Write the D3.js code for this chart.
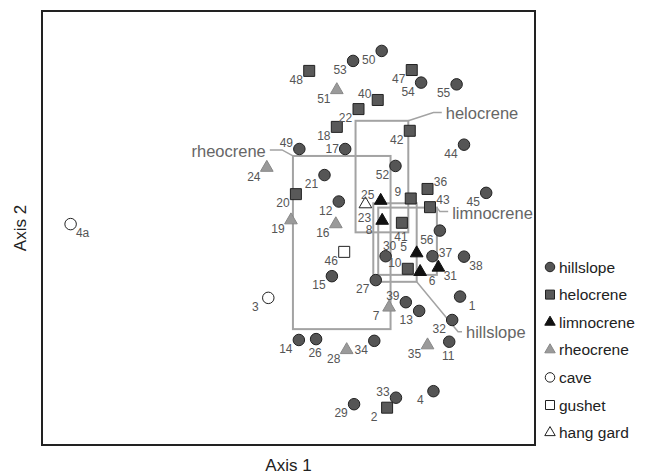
<!DOCTYPE html>
<html>
<head>
<meta charset="utf-8">
<script src="https://cdn.jsdelivr.net/npm/d3@7"></script>
<style>
  body { margin: 0; background: #fff; }
  text { font-family: "Liberation Sans", Arial, sans-serif; }
</style>
</head>
<body>
<div id="chart"></div>
<script>
// ordination scores (axis units, 0-100)
const siteIds = ["50","53","54","55","44","49","17","21","52","45","12","56","30","37","38","27","15","1","39","13","32","14","26","34","11","29","33","4",
  "48","47","40","22","18","42","36","20","9","43","41","10","2",
  "25","8","5","6","31",
  "51","24","19","16","7","28","35",
  "4a","3","46","23"];
const axis1 = [68.9,63.1,76.9,84.1,85.6,52.2,61.5,57.3,71.7,90.1,60.2,80.7,69.7,79.2,85.6,67.7,58.8,84.8,73.8,76.5,83.2,52.1,55.6,67.4,82.6,63.3,71.8,79.4,
  54.2,75.0,68.1,64.2,59.8,74.6,78.2,51.5,74.8,78.7,73.0,74.2,70.0,
  68.7,69.0,76.0,76.7,80.4,
  59.8,45.6,50.5,59.6,70.4,61.8,78.2,
  5.8,45.9,61.3,65.6];
const axis2 = [90.8,88.5,83.5,83.1,69.2,68.2,68.2,62.2,64.3,58.1,56.1,49.4,43.5,43.5,43.4,38.0,38.9,34.2,32.9,30.9,28.8,24.2,24.4,24.0,23.8,9.4,10.9,12.4,
  86.2,86.4,79.5,77.4,73.3,72.4,59.0,57.8,56.8,54.8,51.2,40.6,8.6,
  56.3,51.7,44.2,39.9,40.9,
  81.8,63.9,51.8,50.9,31.7,21.9,23.0,
  50.9,33.9,44.5,55.5];
const siteType = [].concat(
  Array(28).fill("hillslope"), Array(13).fill("helocrene"), Array(5).fill("limnocrene"),
  Array(7).fill("rheocrene"), ["cave","cave","gushet","hang gard"]);

const types = ["hillslope","helocrene","limnocrene","rheocrene","cave","gushet","hang gard"];

// group boxes: [x0, x1, yBottom, yTop]
const boxNames = ["rheocrene","helocrene","limnocrene","hillslope"];
const boxX0 = [50.9, 63.6, 68.2, 67.2];
const boxX1 = [70.7, 74.3, 80.1, 76.0];
const boxY0 = [26.7, 49.0, 39.2, 37.6];
const boxY1 = [66.6, 74.7, 54.7, 55.7];
// labels for boxes: elbow of the leader and text position
const boxLabelX = [45.4, 81.9, 83.2, 86.0];
const boxLabelY = [67.7, 76.6, 53.5, 26.0];
const elbowX = [48.7, 79.4, 80.7, 84.4];
const elbowY = [68.0, 76.6, 53.8, 26.1];

const labelSide = {"40":"la","49":"la","17":"l","36":"ra","25":"la","23":"b","9":"la","43":"ra","41":"b",
  "30":"a","5":"la","37":"r","38":"rb","10":"la","6":"rb","31":"rb","1":"rb","39":"la","26":"b",
  "11":"b","33":"la","4a":"rb"};
const sideOffset = {lb:[-13,9], la:[-13,-6], l:[-13,0], ra:[13,-7], rb:[12,9], b:[-1,14], a:[4,-10], r:[13,-3]};

const W = 652, H = 475;
const frame = {left: 42, right: 535, top: 11, bottom: 445};

const svg = d3.select("#chart").append("svg")
  .attr("width", W).attr("height", H);

const x = d3.scaleLinear().domain([0, 100]).range([frame.left, frame.right]);
const y = d3.scaleLinear().domain([0, 100]).range([frame.bottom, frame.top]);

const style = {
  "hillslope":  {shape: "circle",   fill: "#555", stroke: "#222"},
  "helocrene":  {shape: "square",   fill: "#595959", stroke: "#222"},
  "limnocrene": {shape: "triangle", fill: "#111", stroke: "#111"},
  "rheocrene":  {shape: "triangle", fill: "#9a9a9a", stroke: "#888"},
  "cave":       {shape: "circle",   fill: "#fff", stroke: "#222"},
  "gushet":     {shape: "square",   fill: "#fff", stroke: "#222"},
  "hang gard":  {shape: "triangle", fill: "#fff", stroke: "#222"}
};

function shapePath(shape, s) {
  if (shape === "circle") {
    const r = s / 2;
    return `M${-r},0A${r},${r} 0 1,0 ${r},0A${r},${r} 0 1,0 ${-r},0Z`;
  }
  if (shape === "square") {
    const h = s / 2;
    return `M${-h},${-h}H${h}V${h}H${-h}Z`;
  }
  const t = s * 1.1, th = t * Math.sqrt(3) / 2;
  return `M0,${-2 * th / 3}L${t / 2},${th / 3}L${-t / 2},${th / 3}Z`;
}

// boxes
const boxes = svg.append("g");
boxNames.forEach((name, i) => {
  boxes.append("rect")
    .attr("x", x(boxX0[i])).attr("y", y(boxY1[i]))
    .attr("width", x(boxX1[i]) - x(boxX0[i]))
    .attr("height", y(boxY0[i]) - y(boxY1[i]))
    .attr("fill", "none").attr("stroke", "#a3a3a3").attr("stroke-width", 2);

  // leader from the nearest corner to the label
  const left = boxLabelX[i] < boxX0[i];
  const cx = left ? x(boxX0[i]) : x(boxX1[i]);
  const cy = name === "hillslope" ? y(boxY0[i]) : y(boxY1[i]);
  const lx = x(boxLabelX[i]) + (left ? 4 : -4);
  boxes.append("polyline")
    .attr("points", [[cx, cy], [x(elbowX[i]), y(elbowY[i])], [lx, y(elbowY[i])]].join(" "))
    .attr("fill", "none").attr("stroke", "#a3a3a3").attr("stroke-width", 1.5);
  boxes.append("text")
    .attr("x", x(boxLabelX[i])).attr("y", y(boxLabelY[i]))
    .attr("text-anchor", left ? "end" : "start")
    .attr("dominant-baseline", "central")
    .attr("font-size", 16.5).attr("fill", "#666")
    .text(name);
});

// frame
svg.append("rect")
  .attr("x", frame.left).attr("y", frame.top)
  .attr("width", frame.right - frame.left).attr("height", frame.bottom - frame.top)
  .attr("fill", "none").attr("stroke", "#222").attr("stroke-width", 2);

// points
const pts = siteIds.map((id, i) => ({id, a1: axis1[i], a2: axis2[i], type: siteType[i]}));

const g = svg.append("g");
g.selectAll("path.site").data(pts).join("path")
  .attr("class", "site")
  .attr("transform", d => `translate(${x(d.a1)},${y(d.a2)})`)
  .attr("d", d => shapePath(style[d.type].shape, style[d.type].shape === "square" ? 11 : 11.5))
  .attr("fill", d => style[d.type].fill)
  .attr("stroke", d => style[d.type].stroke)
  .attr("stroke-width", 1);

g.selectAll("text.lab").data(pts).join("text")
  .attr("class", "lab")
  .attr("x", d => x(d.a1) + sideOffset[labelSide[d.id] || "lb"][0])
  .attr("y", d => y(d.a2) + sideOffset[labelSide[d.id] || "lb"][1])
  .attr("text-anchor", "middle")
  .attr("dominant-baseline", "central")
  .attr("font-size", 12).attr("fill", "#555")
  .text(d => d.id);

// axis titles
svg.append("text")
  .attr("x", (frame.left + frame.right) / 2).attr("y", 465)
  .attr("text-anchor", "middle").attr("dominant-baseline", "central")
  .attr("font-size", 17).attr("fill", "#222")
  .text("Axis 1");
svg.append("text")
  .attr("transform", `translate(20,${(frame.top + frame.bottom) / 2}) rotate(-90)`)
  .attr("text-anchor", "middle").attr("dominant-baseline", "central")
  .attr("font-size", 17).attr("fill", "#222")
  .text("Axis 2");

// legend
const legend = svg.append("g").attr("transform", "translate(550,267)");
const rows = legend.selectAll("g").data(types).join("g")
  .attr("transform", (d, i) => `translate(0,${i * 27.6})`);
rows.append("path")
  .attr("d", d => shapePath(style[d].shape, style[d].shape === "square" ? 9 : 9.5))
  .attr("fill", d => style[d].fill)
  .attr("stroke", d => style[d].stroke)
  .attr("stroke-width", 1);
rows.append("text")
  .attr("x", 9).attr("dominant-baseline", "central")
  .attr("font-size", 15.5).attr("fill", "#222")
  .text(d => d);
</script>
</body>
</html>
